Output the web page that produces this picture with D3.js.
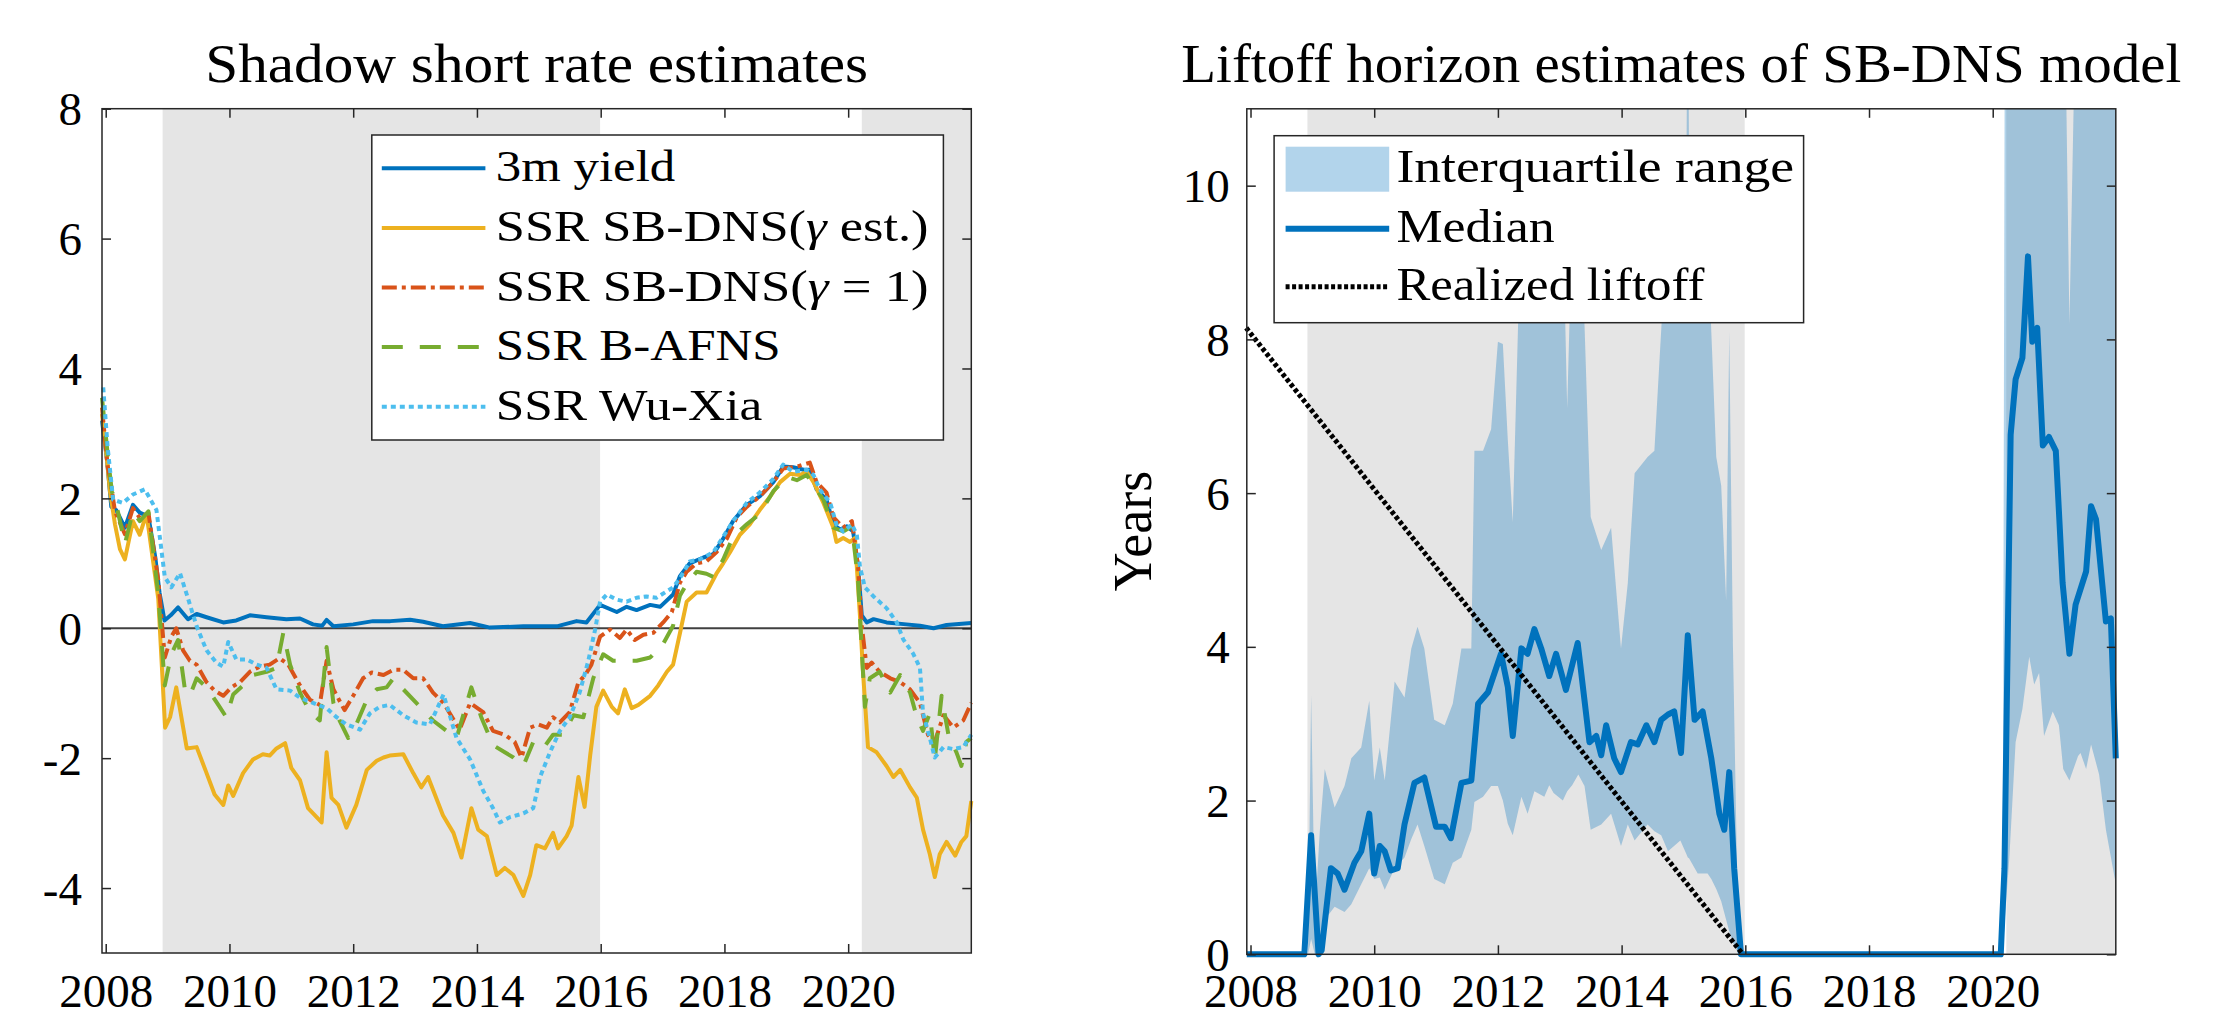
<!DOCTYPE html>
<html>
<head>
<meta charset="utf-8">
<script src="https://cdn.jsdelivr.net/npm/d3@7"></script>
<style>
  body { margin: 0; background: #fff; }
  text { font-family: "Liberation Serif", "Times New Roman", serif; fill: #000; }
</style>
</head>
<body>
<div class="svg"></div>
<script>
// ---- data (decimal years) ----
const xTicks = [2008, 2010, 2012, 2014, 2016, 2018, 2020];
const yTicksLeft = [-4, -2, 0, 2, 4, 6, 8];
const yTicksRight = [0, 2, 4, 6, 8, 10];

// zero lower bound periods (grey shading)
const zlbStart = [2008.92, 2020.22];
const zlbEnd = [2015.99, 2021.99];

const yield3m = [[2007.94,3.2],[2008.02,2.6],[2008.09,1.87],[2008.17,1.82],[2008.31,1.55],[2008.44,1.9],[2008.55,1.78],[2008.69,1.72],[2008.8,1.1],[2008.87,0.55],[2008.95,0.12],[2009.05,0.2],[2009.17,0.32],[2009.33,0.14],[2009.47,0.22],[2009.63,0.17],[2009.9,0.09],[2010.11,0.12],[2010.33,0.2],[2010.6,0.17],[2010.92,0.14],[2011.14,0.15],[2011.35,0.06],[2011.5,0.04],[2011.57,0.13],[2011.68,0.03],[2012.0,0.06],[2012.32,0.11],[2012.6,0.11],[2012.92,0.13],[2013.13,0.1],[2013.45,0.03],[2013.89,0.08],[2014.21,0.01],[2014.75,0.03],[2015.29,0.03],[2015.61,0.11],[2015.77,0.09],[2015.99,0.36],[2016.26,0.25],[2016.42,0.33],[2016.58,0.28],[2016.8,0.36],[2016.96,0.33],[2017.17,0.52],[2017.28,0.8],[2017.44,1.0],[2017.66,1.09],[2017.82,1.14],[2017.98,1.38],[2018.14,1.65],[2018.36,1.9],[2018.57,2.03],[2018.79,2.25],[2018.95,2.49],[2019.11,2.48],[2019.28,2.44],[2019.38,2.44],[2019.49,2.14],[2019.65,1.98],[2019.76,1.6],[2019.87,1.52],[2019.98,1.57],[2020.08,1.49],[2020.16,0.95],[2020.22,0.2],[2020.3,0.09],[2020.41,0.14],[2020.62,0.09],[2020.94,0.06],[2021.16,0.04],[2021.38,0.0],[2021.59,0.05],[2021.99,0.08]];

const ssrEst = [[2007.94,3.3],[2008.02,2.6],[2008.07,2.1],[2008.15,1.6],[2008.23,1.22],[2008.31,1.06],[2008.44,1.65],[2008.55,1.44],[2008.66,1.76],[2008.85,0.45],[2008.96,-1.53],[2009.04,-1.37],[2009.14,-0.91],[2009.31,-1.85],[2009.47,-1.83],[2009.63,-2.23],[2009.76,-2.56],[2009.9,-2.72],[2009.98,-2.42],[2010.06,-2.58],[2010.22,-2.23],[2010.38,-2.02],[2010.54,-1.94],[2010.65,-1.96],[2010.76,-1.85],[2010.9,-1.77],[2011.0,-2.15],[2011.14,-2.34],[2011.27,-2.77],[2011.49,-2.99],[2011.57,-1.91],[2011.65,-2.61],[2011.76,-2.72],[2011.89,-3.07],[2012.05,-2.72],[2012.22,-2.18],[2012.38,-2.04],[2012.49,-1.99],[2012.59,-1.96],[2012.81,-1.94],[2012.97,-2.23],[2013.1,-2.45],[2013.21,-2.29],[2013.45,-2.88],[2013.62,-3.15],[2013.75,-3.53],[2013.91,-2.77],[2014.02,-3.1],[2014.16,-3.2],[2014.32,-3.8],[2014.45,-3.69],[2014.59,-3.8],[2014.75,-4.12],[2014.86,-3.8],[2014.96,-3.34],[2015.1,-3.39],[2015.23,-3.15],[2015.31,-3.39],[2015.45,-3.2],[2015.53,-3.04],[2015.64,-2.29],[2015.74,-2.75],[2015.83,-1.96],[2015.93,-1.21],[2016.04,-0.96],[2016.18,-1.21],[2016.28,-1.31],[2016.39,-0.94],[2016.5,-1.23],[2016.61,-1.18],[2016.8,-1.04],[2016.93,-0.88],[2017.07,-0.67],[2017.17,-0.56],[2017.28,-0.08],[2017.39,0.41],[2017.55,0.55],[2017.71,0.55],[2017.87,0.84],[2017.98,1.0],[2018.09,1.17],[2018.25,1.44],[2018.41,1.6],[2018.57,1.82],[2018.74,2.03],[2018.9,2.25],[2019.06,2.38],[2019.22,2.36],[2019.33,2.41],[2019.44,2.25],[2019.6,1.93],[2019.76,1.55],[2019.81,1.33],[2019.92,1.39],[2020.03,1.33],[2020.11,1.39],[2020.19,0.2],[2020.24,-0.67],[2020.32,-1.83],[2020.46,-1.91],[2020.62,-2.12],[2020.73,-2.29],[2020.84,-2.18],[2021.0,-2.45],[2021.11,-2.61],[2021.21,-3.1],[2021.32,-3.48],[2021.4,-3.83],[2021.48,-3.48],[2021.59,-3.29],[2021.73,-3.5],[2021.83,-3.29],[2021.91,-3.2],[2021.99,-2.66]];

const ssrGamma1 = [[2007.94,3.4],[2008.03,2.5],[2008.07,2.3],[2008.15,1.8],[2008.31,1.45],[2008.44,1.85],[2008.55,1.7],[2008.69,1.78],[2008.85,0.74],[2008.955,-0.45],[2009.06,-0.13],[2009.14,0.0],[2009.25,-0.34],[2009.36,-0.5],[2009.47,-0.56],[2009.63,-0.83],[2009.76,-0.96],[2009.9,-1.04],[2010.03,-0.91],[2010.17,-0.83],[2010.33,-0.67],[2010.49,-0.59],[2010.65,-0.56],[2010.81,-0.46],[2010.95,-0.56],[2011.14,-0.88],[2011.3,-1.1],[2011.46,-1.18],[2011.57,-0.5],[2011.68,-0.94],[2011.86,-1.26],[2012.0,-1.04],[2012.16,-0.77],[2012.3,-0.68],[2012.49,-0.72],[2012.65,-0.64],[2012.81,-0.64],[2012.97,-0.77],[2013.13,-0.77],[2013.29,-0.99],[2013.46,-1.15],[2013.72,-1.56],[2013.89,-1.15],[2014.1,-1.29],[2014.26,-1.58],[2014.45,-1.64],[2014.61,-1.75],[2014.72,-1.99],[2014.86,-1.53],[2014.99,-1.48],[2015.13,-1.53],[2015.23,-1.37],[2015.34,-1.45],[2015.5,-1.29],[2015.64,-0.83],[2015.75,-0.72],[2015.85,-0.56],[2015.99,-0.13],[2016.15,-0.02],[2016.31,-0.15],[2016.42,-0.02],[2016.55,-0.18],[2016.69,-0.1],[2016.85,-0.07],[2017.01,0.09],[2017.15,0.25],[2017.28,0.7],[2017.39,0.87],[2017.55,1.0],[2017.71,1.03],[2017.87,1.17],[2018.04,1.38],[2018.2,1.71],[2018.36,1.87],[2018.57,2.03],[2018.79,2.25],[2018.95,2.46],[2019.17,2.49],[2019.38,2.55],[2019.49,2.25],[2019.65,2.09],[2019.76,1.71],[2019.92,1.55],[2020.06,1.65],[2020.16,0.95],[2020.22,0.04],[2020.3,-0.61],[2020.38,-0.53],[2020.51,-0.67],[2020.68,-0.77],[2020.84,-0.83],[2021.0,-0.94],[2021.16,-1.15],[2021.29,-1.64],[2021.4,-1.75],[2021.54,-1.34],[2021.7,-1.53],[2021.86,-1.42],[2021.99,-1.15]];

const ssrAfns = [[2007.94,3.55],[2008.04,2.6],[2008.1,2.1],[2008.15,2.0],[2008.31,1.3],[2008.44,1.8],[2008.55,1.65],[2008.69,1.8],[2008.85,0.52],[2008.955,-0.88],[2009.06,-0.4],[2009.17,-0.18],[2009.28,-0.94],[2009.36,-1.04],[2009.47,-0.77],[2009.63,-0.91],[2009.82,-1.18],[2009.95,-1.37],[2010.06,-1.02],[2010.22,-0.88],[2010.38,-0.72],[2010.6,-0.67],[2010.76,-0.61],[2010.87,-0.07],[2010.98,-0.56],[2011.14,-0.99],[2011.3,-1.29],[2011.46,-1.42],[2011.57,-0.29],[2011.68,-1.15],[2011.78,-1.42],[2011.92,-1.69],[2012.05,-1.48],[2012.22,-1.1],[2012.38,-0.94],[2012.54,-0.91],[2012.65,-0.77],[2012.81,-0.94],[2013.08,-1.21],[2013.29,-1.42],[2013.51,-1.58],[2013.67,-1.69],[2013.91,-0.91],[2014.07,-1.37],[2014.26,-1.8],[2014.45,-1.91],[2014.59,-1.99],[2014.75,-2.12],[2014.91,-1.75],[2015.07,-1.85],[2015.23,-1.64],[2015.39,-1.64],[2015.56,-1.34],[2015.72,-1.37],[2015.88,-0.77],[2016.04,-0.4],[2016.2,-0.5],[2016.36,-0.5],[2016.58,-0.5],[2016.8,-0.45],[2017.01,-0.24],[2017.17,0.04],[2017.28,0.5],[2017.39,0.68],[2017.55,0.87],[2017.71,0.84],[2017.82,0.79],[2017.98,1.06],[2018.14,1.41],[2018.36,1.6],[2018.57,1.76],[2018.79,2.11],[2019.01,2.33],[2019.17,2.28],[2019.33,2.36],[2019.44,2.2],[2019.6,1.98],[2019.76,1.55],[2019.92,1.49],[2020.06,1.57],[2020.16,0.74],[2020.22,-0.34],[2020.27,-1.21],[2020.35,-0.77],[2020.51,-0.67],[2020.68,-0.99],[2020.84,-0.72],[2021.0,-0.99],[2021.11,-1.37],[2021.21,-1.58],[2021.32,-1.31],[2021.4,-2.02],[2021.51,-1.04],[2021.62,-1.64],[2021.75,-1.91],[2021.83,-2.12],[2021.91,-1.75],[2021.99,-1.69]];

const ssrWuXia = [[2007.96,3.71],[2008.03,2.8],[2008.12,1.98],[2008.28,1.93],[2008.44,2.06],[2008.63,2.14],[2008.82,1.82],[2008.955,0.79],[2009.06,0.63],[2009.2,0.85],[2009.31,0.52],[2009.47,0.03],[2009.63,-0.34],[2009.79,-0.53],[2009.9,-0.59],[2009.98,-0.21],[2010.11,-0.48],[2010.28,-0.48],[2010.44,-0.56],[2010.6,-0.61],[2010.76,-0.94],[2010.98,-0.96],[2011.14,-1.07],[2011.35,-1.15],[2011.57,-1.23],[2011.73,-1.37],[2011.89,-1.48],[2012.11,-1.56],[2012.27,-1.31],[2012.43,-1.21],[2012.59,-1.18],[2012.81,-1.34],[2013.02,-1.45],[2013.24,-1.48],[2013.46,-1.02],[2013.67,-1.69],[2013.89,-2.02],[2014.1,-2.5],[2014.26,-2.77],[2014.37,-2.99],[2014.53,-2.91],[2014.75,-2.85],[2014.91,-2.77],[2015.02,-2.29],[2015.18,-1.91],[2015.34,-1.58],[2015.5,-1.37],[2015.66,-0.99],[2015.8,-0.5],[2015.91,-0.02],[2015.99,0.41],[2016.1,0.52],[2016.26,0.44],[2016.42,0.41],[2016.58,0.47],[2016.74,0.49],[2016.9,0.47],[2017.07,0.57],[2017.17,0.63],[2017.28,0.77],[2017.44,1.03],[2017.6,1.06],[2017.82,1.17],[2017.98,1.41],[2018.14,1.65],[2018.36,1.93],[2018.57,2.09],[2018.79,2.3],[2018.95,2.52],[2019.11,2.41],[2019.33,2.44],[2019.44,2.36],[2019.54,2.14],[2019.71,1.93],[2019.81,1.6],[2019.92,1.49],[2020.06,1.6],[2020.14,1.44],[2020.19,0.95],[2020.27,0.63],[2020.41,0.49],[2020.62,0.31],[2020.78,0.1],[2020.89,-0.17],[2021.05,-0.39],[2021.16,-0.61],[2021.21,-1.31],[2021.32,-1.69],[2021.4,-1.99],[2021.54,-1.83],[2021.7,-1.86],[2021.86,-1.83],[2021.99,-1.64]];

// liftoff horizon: [date, lower quartile, upper quartile]
const iqrBand = [[2007.94,0,0],[2008.93,0,0],[2008.98,0.2,3.37],[2009.04,0,0.5],[2009.12,0.05,1.6],[2009.2,0.45,2.41],[2009.36,0.62,1.91],[2009.52,0.55,2.19],[2009.63,0.65,2.55],[2009.79,0.91,2.69],[2009.92,1.12,3.3],[2010.0,0.98,2.26],[2010.09,1.0,2.69],[2010.17,0.84,2.26],[2010.33,1.12,3.55],[2010.49,1.26,3.34],[2010.6,1.5,3.98],[2010.7,1.69,4.26],[2010.81,1.41,3.98],[2010.97,0.98,3.05],[2011.14,0.91,2.98],[2011.27,1.19,3.26],[2011.41,1.26,3.98],[2011.57,1.62,3.98],[2011.62,1.98,6.55],[2011.76,2.05,6.55],[2011.89,2.19,6.83],[2012.0,2.19,7.97],[2012.08,2.0,7.94],[2012.16,1.7,6.69],[2012.24,1.55,5.62],[2012.38,2.05,9.8],[2012.48,1.83,10.2],[2012.59,2.12,9.9],[2012.75,2.05,10.3],[2012.83,2.2,8.34],[2012.9,2.1,10.0],[2013.05,2.0,9.6],[2013.12,2.12,7.1],[2013.2,2.2,9.5],[2013.3,2.34,9.8],[2013.4,2.19,8.19],[2013.5,1.62,5.69],[2013.67,1.69,5.26],[2013.83,1.83,5.55],[2013.99,1.41,3.98],[2014.1,1.69,4.83],[2014.21,1.48,6.26],[2014.42,1.69,6.47],[2014.53,1.6,6.55],[2014.64,1.55,8.12],[2014.75,1.34,9.6],[2014.95,1.48,9.8],[2015.05,1.3,10.4],[2015.07,1.26,14],[2015.09,1.25,10.2],[2015.23,1.05,9.7],[2015.39,1.05,9.5],[2015.45,0.98,8.1],[2015.53,0.85,6.47],[2015.61,0.69,6.1],[2015.69,0.45,4.6],[2015.74,0.3,8.1],[2015.8,0.15,4.0],[2015.88,0.02,0.5],[2015.96,0,0],[2020.16,0,0],[2020.2,0.5,14],[2020.27,1.27,14],[2020.37,2.76,14],[2020.48,3.19,14],[2020.59,3.87,14],[2020.67,3.51,14],[2020.75,3.66,14],[2020.83,2.84,14],[2020.97,3.16,14],[2021.07,2.98,14],[2021.14,2.41,14],[2021.24,2.26,8.2],[2021.38,2.58,14],[2021.42,2.62,14],[2021.51,2.41,14],[2021.59,2.73,14],[2021.72,2.34,14],[2021.83,1.62,14],[2021.99,0.91,14]];

const medianHorizon = [[2007.94,0],[2008.87,0],[2008.98,1.55],[2009.1,0],[2009.15,0.05],[2009.3,1.12],[2009.41,1.05],[2009.52,0.84],[2009.68,1.19],[2009.79,1.34],[2009.92,1.83],[2010.0,1.05],[2010.09,1.41],[2010.17,1.34],[2010.27,1.09],[2010.38,1.12],[2010.49,1.69],[2010.65,2.23],[2010.81,2.3],[2011.0,1.66],[2011.14,1.66],[2011.24,1.51],[2011.41,2.23],[2011.57,2.26],[2011.68,3.26],[2011.84,3.41],[2012.05,3.91],[2012.16,3.48],[2012.24,2.84],[2012.38,3.98],[2012.48,3.91],[2012.59,4.23],[2012.7,3.98],[2012.83,3.62],[2012.94,3.91],[2013.1,3.44],[2013.29,4.05],[2013.48,2.76],[2013.59,2.84],[2013.67,2.59],[2013.75,2.98],[2013.88,2.55],[2013.99,2.37],[2014.15,2.76],[2014.26,2.73],[2014.4,2.98],[2014.53,2.76],[2014.64,3.05],[2014.75,3.12],[2014.85,3.16],[2014.96,2.62],[2015.07,4.15],[2015.18,3.05],[2015.31,3.16],[2015.45,2.55],[2015.58,1.83],[2015.66,1.62],[2015.74,2.37],[2015.82,1.12],[2015.93,0],[2020.13,0],[2020.19,1.12],[2020.29,6.76],[2020.37,7.48],[2020.48,7.76],[2020.57,9.08],[2020.64,7.97],[2020.72,8.15],[2020.81,6.62],[2020.91,6.73],[2021.02,6.55],[2021.13,4.83],[2021.24,3.91],[2021.34,4.55],[2021.51,4.98],[2021.59,5.83],[2021.67,5.66],[2021.83,4.33],[2021.91,4.37],[2021.99,2.55]];

const realizedLiftoff = [[2007.93,8.15],[2015.96,0]];

const leftNames = ['3m yield', 'SSR SB-DNS(γ est.)', 'SSR SB-DNS(γ = 1)', 'SSR B-AFNS', 'SSR Wu-Xia'];
const rightNames = ['Interquartile range', 'Median', 'Realized liftoff'];

// ---- layout ----
const width = 2228, height = 1018;
const blue = '#0072BD', yellow = '#EDB120', red = '#D95319', green = '#77AC30', cyan = '#4DBEEE';
const axisColor = '#262626';
const tickFont = 47;

let svg = d3.select('.svg').append('svg').attr('width', width).attr('height', height)
    .style('background', '#fff');

let xDomain = [2007.94, 2021.99];

function makePanel(left, right, top, bottom, yDomain, yTicks, pad, id) {
    let x = d3.scaleLinear().domain(xDomain).range([left, right]);
    let y = d3.scaleLinear().domain(yDomain).range([bottom, top]);
    let g = svg.append('g');

    svg.append('clipPath').attr('id', id).append('rect')
        .attr('x', left).attr('y', top).attr('width', right - left).attr('height', bottom - top);

    // shading
    g.selectAll('.zlb').data(zlbStart).enter().append('rect')
        .attr('x', d => x(d))
        .attr('y', top)
        .attr('width', (d, i) => x(zlbEnd[i]) - x(d))
        .attr('height', bottom - top)
        .attr('fill', '#e5e5e5');

    let data = svg.append('g');
    let ax = svg.append('g');

    let bx = ax.append('g').attr('transform', 'translate(0,' + bottom + ')')
        .call(d3.axisBottom(x).tickValues(xTicks).tickSizeInner(-9).tickSizeOuter(0)
            .tickFormat(d3.format('d')));
    ax.append('g').attr('transform', 'translate(0,' + top + ')')
        .call(d3.axisTop(x).tickValues(xTicks).tickSizeInner(-9).tickSizeOuter(0).tickFormat(''));
    let ly = ax.append('g').attr('transform', 'translate(' + left + ',0)')
        .call(d3.axisLeft(y).tickValues(yTicks).tickSizeInner(-9).tickSizeOuter(0).tickPadding(pad)
            .tickFormat(d => String(d)));
    ax.append('g').attr('transform', 'translate(' + right + ',0)')
        .call(d3.axisRight(y).tickValues(yTicks).tickSizeInner(-9).tickSizeOuter(0).tickFormat(''));

    ax.selectAll('.domain').remove();
    ax.selectAll('.tick line').attr('stroke', axisColor).attr('stroke-width', 1.5);
    ax.selectAll('.tick text').attr('font-size', tickFont).attr('fill', '#000')
        .style('font-family', '"Liberation Serif", serif');
    bx.selectAll('text').attr('y', 1007 - bottom).attr('dy', 0);
    ly.selectAll('text').attr('dy', '0.34em');

    ax.append('rect').attr('x', left).attr('y', top).attr('width', right - left).attr('height', bottom - top)
        .attr('fill', 'none').attr('stroke', axisColor).attr('stroke-width', 1.5);

    return { x: x, y: y, data: data, ax: ax };
}

// ---- left panel ----
let L = makePanel(102, 971.3, 108.7, 953, [-5, 8], yTicksLeft, 20, 'clipL');

L.data.append('line')
    .attr('x1', 102).attr('x2', 971.3).attr('y1', L.y(0)).attr('y2', L.y(0))
    .attr('stroke', '#404040').attr('stroke-width', 2);

let lineL = d3.line().x(d => L.x(d[0])).y(d => L.y(d[1]));
const leftSeries = [
    { data: yield3m, color: blue, dash: null },
    { data: ssrEst, color: yellow, dash: null },
    { data: ssrGamma1, color: red, dash: '15,5,4,5' },
    { data: ssrAfns, color: green, dash: '21,17' },
    { data: ssrWuXia, color: cyan, dash: '5,4' }
];
leftSeries.forEach(function (s) {
    L.data.append('path').datum(s.data)
        .attr('d', lineL)
        .attr('fill', 'none')
        .attr('stroke', s.color)
        .attr('stroke-width', 4)
        .attr('stroke-linejoin', 'round')
        .attr('stroke-dasharray', s.dash);
});

svg.append('text').attr('x', 536.7).attr('y', 82).attr('text-anchor', 'middle')
    .attr('font-size', 54).attr('textLength', 663).attr('lengthAdjust', 'spacingAndGlyphs')
    .text('Shadow short rate estimates');

// left legend
let legL = svg.append('g');
legL.append('rect').attr('x', 371.8).attr('y', 135).attr('width', 571.6).attr('height', 305)
    .attr('fill', '#fff').attr('stroke', axisColor).attr('stroke-width', 1.5);
const leftWidths = [179.4, 432.8, 432.8, 284.9, 266.4];
leftSeries.forEach(function (s, i) {
    let cy = 168.3 + i * 59.6;
    legL.append('line').attr('x1', 381.8).attr('x2', 485.4).attr('y1', cy).attr('y2', cy)
        .attr('stroke', s.color).attr('stroke-width', 4).attr('stroke-dasharray', s.dash);
    let t = legL.append('text').attr('x', 495.8).attr('y', cy + 13).attr('font-size', 45)
        .attr('textLength', leftWidths[i]).attr('lengthAdjust', 'spacingAndGlyphs');
    let parts = leftNames[i].split('γ');
    t.append('tspan').text(parts[0]);
    if (parts.length > 1) {
        t.append('tspan').attr('font-style', 'italic').text('γ');
        t.append('tspan').text(parts[1]);
    }
});

// ---- right panel ----
let R = makePanel(1246.8, 2115.8, 108.8, 954.3, [0, 11], yTicksRight, 17, 'clipR');

let area = d3.area().x(d => R.x(d[0])).y0(d => R.y(d[1])).y1(d => R.y(d[2]));
R.data.append('path').datum(iqrBand)
    .attr('d', area)
    .attr('fill', blue).attr('fill-opacity', 0.3)
    .attr('clip-path', 'url(#clipR)');

let lineR = d3.line().x(d => R.x(d[0])).y(d => R.y(d[1]));
R.data.append('path').datum(medianHorizon)
    .attr('d', lineR).attr('fill', 'none')
    .attr('stroke', blue).attr('stroke-width', 6).attr('stroke-linejoin', 'round');
R.data.append('path').datum(realizedLiftoff)
    .attr('d', lineR).attr('fill', 'none')
    .attr('stroke', '#000').attr('stroke-width', 5).attr('stroke-dasharray', '4,2.5');

svg.append('text').attr('x', 1681.3).attr('y', 82).attr('text-anchor', 'middle')
    .attr('font-size', 54).attr('textLength', 1000).attr('lengthAdjust', 'spacingAndGlyphs')
    .text('Liftoff horizon estimates of SB-DNS model');

svg.append('text').attr('transform', 'translate(1151,531) rotate(-90)')
    .attr('text-anchor', 'middle').attr('font-size', 54).text('Years');

// right legend
let legR = svg.append('g');
legR.append('rect').attr('x', 1274.1).attr('y', 135.7).attr('width', 529.5).attr('height', 187)
    .attr('fill', '#fff').attr('stroke', axisColor).attr('stroke-width', 1.5);
legR.append('rect').attr('x', 1285.6).attr('y', 146.7).attr('width', 103.6).attr('height', 45)
    .attr('fill', blue).attr('fill-opacity', 0.3);
legR.append('line').attr('x1', 1285.6).attr('x2', 1389.2).attr('y1', 228.7).attr('y2', 228.7)
    .attr('stroke', blue).attr('stroke-width', 6);
legR.append('line').attr('x1', 1285.6).attr('x2', 1389.2).attr('y1', 286.7).attr('y2', 286.7)
    .attr('stroke', '#000').attr('stroke-width', 5).attr('stroke-dasharray', '4,2.5');
const rightWidths = [397.8, 158.3, 307.9];
const rightRows = [169.2, 228.7, 286.7];
rightNames.forEach(function (n, i) {
    legR.append('text').attr('x', 1396.4).attr('y', rightRows[i] + 13).attr('font-size', 46)
        .attr('textLength', rightWidths[i]).attr('lengthAdjust', 'spacingAndGlyphs')
        .text(n);
});
</script>
</body>
</html>
